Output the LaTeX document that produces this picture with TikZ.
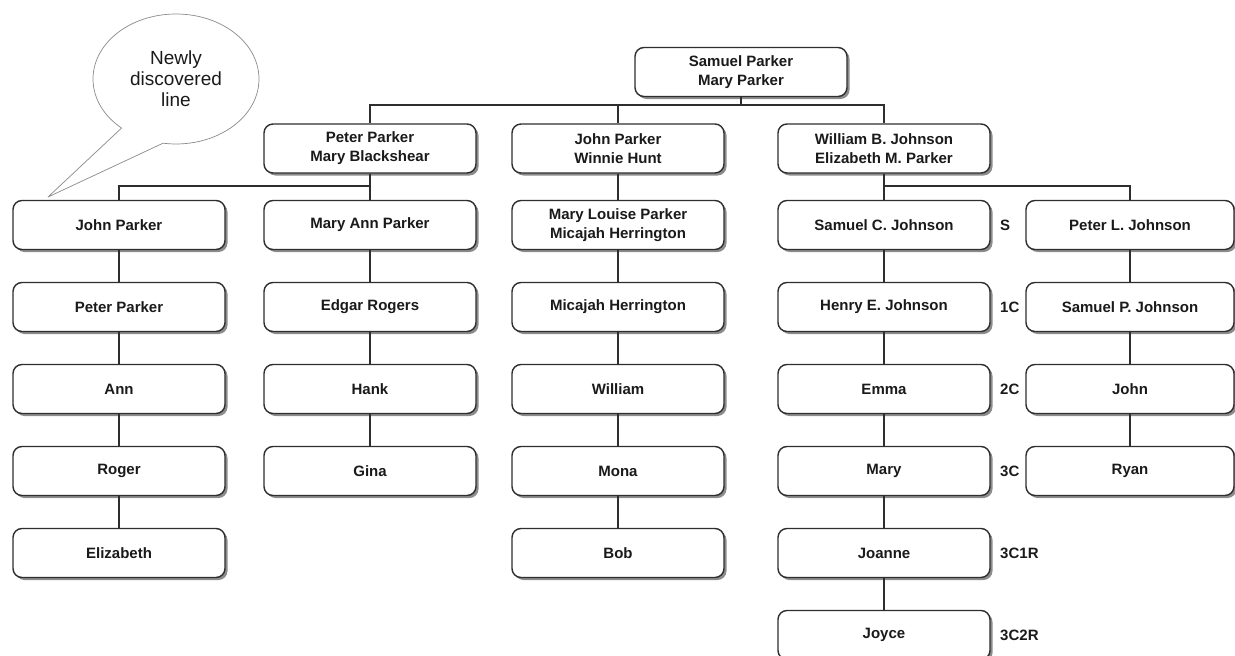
\documentclass[tikz,border=0pt]{standalone}
\usepackage{fontspec}
\setmainfont{Liberation Sans}
\usetikzlibrary{shadows}

\begin{document}
\begin{tikzpicture}[x=1pt,y=-1pt,
  mybox/.style={draw=boxline,line width=1.4pt,rounded corners=9pt,fill=white,
    minimum width=212pt,minimum height=49pt,inner sep=2pt,align=center,text=boxtext,
    font=\fontsize{15}{19}\selectfont\bfseries,
    drop shadow={shadow xshift=2.5pt,shadow yshift=-2.5pt,fill=black!45,opacity=1}},
  mytag/.style={font=\fontsize{15}{18}\selectfont\bfseries,text=boxtext},
  myline/.style={draw=boxline,line width=1.3pt}]
\definecolor{boxline}{HTML}{2E2E2E}
\definecolor{boxtext}{HTML}{1A1A1A}
\definecolor{bubbleline}{HTML}{8A8A8A}
\useasboundingbox (0,0) rectangle (1235,656);
% speech bubble
\coordinate (tip) at (48,197);
\node[align=center,font=\fontsize{19}{21}\selectfont,text=boxtext] (bubble) at (176,79) {Newly\\discovered\\line};
\draw[bubbleline,line width=0.7pt,line join=round] (tip) -- ([shift={(229:83pt and 65pt)}]bubble.center)
  arc[start angle=229,end angle=-99,x radius=83pt,y radius=65pt] -- cycle;
% first two generations
\node[mybox] (root) at (741,72) {Samuel Parker\\Mary Parker};
\node[mybox] (pp) at (370,148.5) {Peter Parker\\Mary Blackshear};
\node[mybox] (jw) at (618,148.5) {John Parker\\Winnie Hunt};
\node[mybox] (wj) at (884,148.5) {William B. Johnson\\Elizabeth M. Parker};
% descendants, one column each
\foreach \txt [count=\i] in {John Parker,Peter Parker,Ann,Roger,Elizabeth}
  {\node[mybox] (a\i) at (119,143+82*\i) {\txt};}
\foreach \txt [count=\i] in {Mary Ann Parker,Edgar Rogers,Hank,Gina}
  {\node[mybox] (b\i) at (370,143+82*\i) {\txt};}
\foreach \txt [count=\i] in {{Mary Louise Parker\\Micajah Herrington},Micajah Herrington,William,Mona,Bob}
  {\node[mybox] (c\i) at (618,143+82*\i) {\txt};}
\foreach \txt/\tag [count=\i] in {Samuel C. Johnson/S,Henry E. Johnson/1C,Emma/2C,Mary/3C,Joanne/3C1R,Joyce/3C2R}
  {\node[mybox,label={[mytag,label distance=6pt]right:\tag}] (d\i) at (884,143+82*\i) {\txt};}
\foreach \txt [count=\i] in {Peter L. Johnson,Samuel P. Johnson,John,Ryan}
  {\node[mybox,minimum width=208pt] (e\i) at (1130,143+82*\i) {\txt};}
% connectors
\coordinate (rootbus) at (741,105);
\coordinate (ppbus) at (370,186);
\coordinate (wjbus) at (884,186);
\draw[myline] (root) -- (rootbus) -| (pp) (rootbus) -| (jw) (rootbus) -| (wj);
\draw[myline] (pp) -- (ppbus) -| (a1) (ppbus) -- (b1);
\draw[myline] (jw) -- (c1);
\draw[myline] (wj) -- (wjbus) -| (e1) (wjbus) -- (d1);
\foreach \cl/\n in {a/4,b/3,c/4,d/5,e/3}
  \foreach \i in {1,...,\n}
  {\pgfmathtruncatemacro\j{\i+1}
   \draw[myline] (\cl\i) -- (\cl\j);}
\end{tikzpicture}
\end{document}
